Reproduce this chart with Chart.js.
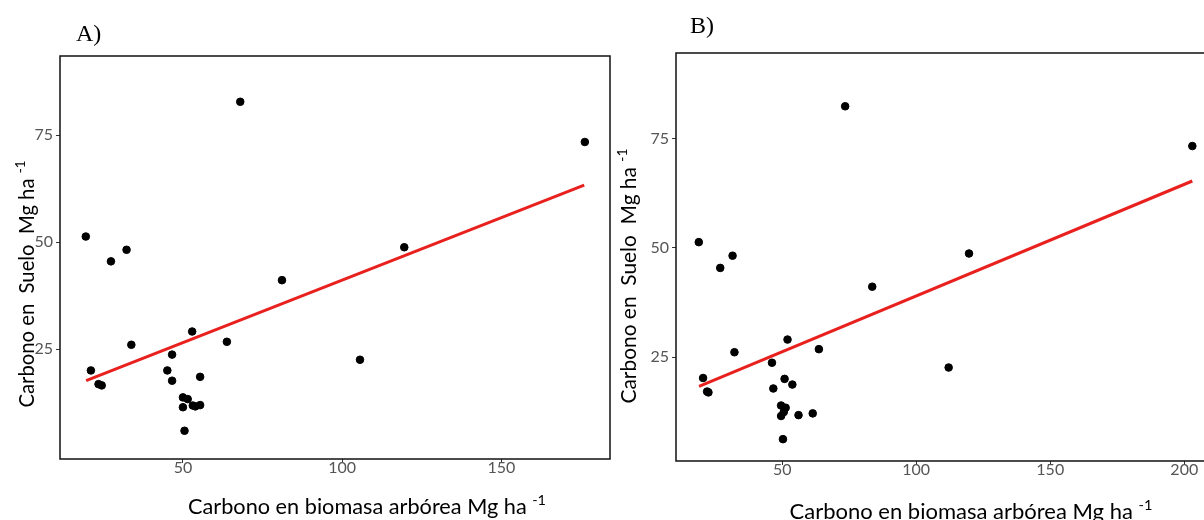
<!DOCTYPE html>
<html>
<head>
<meta charset="utf-8">
<script src="https://cdn.jsdelivr.net/npm/chart.js@4.4.1/dist/chart.umd.min.js"></script>
<style>
  html, body { margin: 0; padding: 0; background: #fff; }
  body { width: 1204px; height: 520px; overflow: hidden; position: relative; }
  canvas { position: absolute; top: 0; }
  #chartA { left: 0; }
  #chartB { left: 600px; }
</style>
</head>
<body>
<canvas id="chartA" width="620" height="520"></canvas>
<canvas id="chartB" width="640" height="520"></canvas>
<script>
// panel A: carbono en biomasa arborea (x) vs carbono en suelo (y)
var xA = [19.5, 21.1, 23.5, 24.5, 27.4, 32.3, 33.8, 45.1, 46.6, 46.6, 50.0, 50.0, 50.5, 51.5, 52.9,
          53.1, 53.9, 55.4, 55.4, 63.8, 68.0, 81.1, 105.6, 119.5, 176.2];
var yA = [51.3, 20.0, 16.8, 16.5, 45.5, 48.2, 26.0, 20.0, 23.7, 17.6, 13.7, 11.4, 5.9, 13.3, 29.1,
          11.8, 11.6, 11.9, 18.5, 26.7, 82.8, 41.1, 22.5, 48.8, 73.4];
var fitAx = [19.6, 176.0];
var fitAy = [17.6, 63.3];

// panel B
var xB = [18.9, 20.5, 22.0, 22.5, 26.9, 31.5, 32.2, 46.2, 46.7, 49.6, 49.6, 50.3, 50.9, 51.3, 50.6,
          52.0, 53.8, 56.1, 61.4, 63.7, 73.5, 83.6, 112.1, 119.7, 203.0];
var yB = [51.3, 20.2, 17.1, 16.9, 45.4, 48.2, 26.1, 23.7, 17.8, 13.9, 11.5, 6.2, 20.0, 13.4, 12.4,
          29.0, 18.7, 11.7, 12.1, 26.8, 82.4, 41.1, 22.6, 48.7, 73.3];
var fitBx = [19.0, 203.0];
var fitBy = [18.3, 65.3];

var xTicksA = [50, 100, 150];
var xTicksB = [50, 100, 150, 200];
var yTicks = [25, 50, 75];

var xTitle = 'Carbono en biomasa arbórea Mg ha';
var yTitle = 'Carbono en  Suelo  Mg ha';
var unitSup = '-1';

Chart.defaults.font.family = 'Lato';

// title text with a superscript unit, squeezed to the width it has in the figure
function drawWithSup(ctx, text, cx, baseY, targetW){
  ctx.textAlign = 'left';
  ctx.textBaseline = 'alphabetic';
  ctx.font = '21px Lato';
  var w1 = ctx.measureText(text + ' ').width;
  ctx.font = '14px Lato';
  var w2 = ctx.measureText(unitSup).width;
  var k = targetW / (w1 + w2);
  ctx.save();
  ctx.translate(cx, baseY);
  ctx.scale(k, 1);
  var x0 = -(w1 + w2) / 2;
  ctx.font = '21px Lato';
  ctx.fillText(text + ' ', x0, 0);
  ctx.font = '14px Lato';
  ctx.fillText(unitSup, x0 + w1, -9);
  ctx.restore();
}

var framePlugin = {
  id: 'frame',
  afterDraw: function(chart, args, opts){
    var ctx = chart.ctx, a = chart.chartArea;
    ctx.save();
    ctx.strokeStyle = '#111';
    ctx.lineWidth = 1.5;
    ctx.strokeRect(a.left, a.top, a.right - a.left, a.bottom - a.top);
    ctx.fillStyle = '#000';
    ctx.font = '24px "Liberation Serif"';
    ctx.textAlign = 'left';
    ctx.fillText(opts.letter, opts.letterX, opts.letterY);
    drawWithSup(ctx, xTitle, opts.xTitleX, opts.xTitleY, opts.xTitleW);
    ctx.translate(opts.yTitleX, opts.yTitleY);
    ctx.rotate(-Math.PI / 2);
    drawWithSup(ctx, yTitle, 0, 0, opts.yTitleW);
    ctx.restore();
  }
};

function makeChart(id, xs, ys, fx, fy, xMin, xMax, yMin, yMax, xTicks, yAxisWidth, pad, frame){
  var pts = xs.map(function(x, i){ return {x: x, y: ys[i]}; });
  var fit = fx.map(function(x, i){ return {x: x, y: fy[i]}; });
  return new Chart(document.getElementById(id), {
    type: 'scatter',
    data: {
      datasets: [
        { data: pts, backgroundColor: '#000', borderColor: '#000', pointRadius: 3.8, pointHoverRadius: 3.8, order: 1 },
        { type: 'line', data: fit, borderColor: '#e8211f', borderWidth: 3, pointRadius: 0, fill: false, order: 0 }
      ]
    },
    options: {
      responsive: false,
      animation: false,
      events: [],
      layout: { padding: pad },
      plugins: { legend: { display: false }, tooltip: { enabled: false }, frame: frame },
      scales: {
        x: {
          type: 'linear', min: xMin, max: xMax,
          afterBuildTicks: function(s){ s.ticks = xTicks.map(function(v){ return {value: v}; }); },
          afterFit: function(s){ s.height = 30; },
          grid: { drawOnChartArea: false, tickLength: 4, color: '#333' },
          border: { display: false },
          ticks: { color: '#555', font: { size: 16 }, padding: -5 }
        },
        y: {
          type: 'linear', min: yMin, max: yMax,
          afterBuildTicks: function(s){ s.ticks = yTicks.map(function(v){ return {value: v}; }); },
          afterFit: function(s){ s.width = yAxisWidth; },
          grid: { drawOnChartArea: false, tickLength: 4, color: '#333' },
          border: { display: false },
          ticks: { color: '#555', font: { size: 16 }, padding: 3 }
        }
      }
    },
    plugins: [framePlugin]
  });
}

makeChart('chartA', xA, yA, fitAx, fitAy, 11.4, 184.1, -0.7, 93.5, xTicksA, 40,
  { left: 20, top: 56, right: 10, bottom: 31 },
  { letter: 'A)', letterX: 76, letterY: 41, xTitleX: 367, xTitleY: 514, xTitleW: 358,
    yTitleX: 34, yTitleY: 284, yTitleW: 247 });

makeChart('chartB', xB, yB, fitBx, fitBy, 10.4, 212.2, 1.2, 94.6, xTicksB, 40,
  { left: 36, top: 53, right: 23, bottom: 29 },
  { letter: 'B)', letterX: 90, letterY: 33, xTitleX: 371, xTitleY: 519, xTitleW: 363,
    yTitleX: 36, yTitleY: 276, yTitleW: 255 });
</script>
</body>
</html>
